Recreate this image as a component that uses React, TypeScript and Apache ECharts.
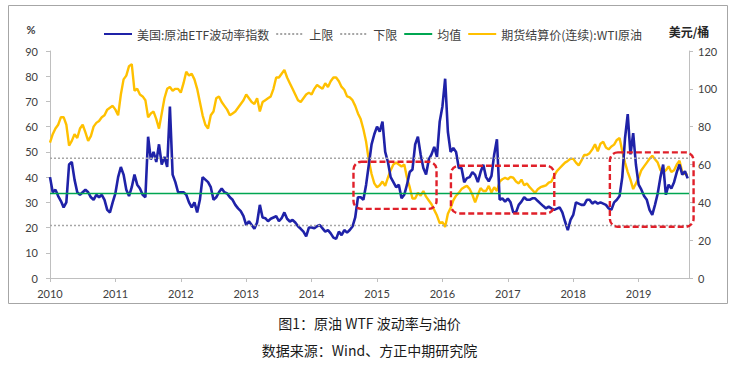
import React, { useEffect, useRef } from "react";
import * as echarts from "echarts";

const startYear = 2010;
const pointsPerYear = 24;
const endYear = 2019.77;
const yearTicks = [2010, 2011, 2012, 2013, 2014, 2015, 2016, 2017, 2018, 2019];

// 美国:原油ETF波动率指数 (left axis, %), semi-monthly readings
const vol2010 = [40, 34, 35, 32.5, 30.5, 28, 30, 45, 46, 39, 34, 33, 34, 35, 34, 32, 31, 33, 32, 33, 31, 27, 26, 30];
const vol2011 = [33.6, 40, 44, 41, 35, 32.5, 36, 41, 37, 35.5, 33, 32, 56, 47, 50, 46, 53, 45, 48, 44, 68, 41, 38, 34];
const vol2012 = [34, 34, 33, 30, 28, 30, 26, 31, 40, 39, 38, 36, 31, 32, 34, 35.5, 34, 33.5, 32, 31, 29, 27.6, 26.5, 24.5];
const vol2013 = [21, 22.5, 21, 19.5, 22, 29, 24, 23.7, 22.5, 23.5, 24, 24.5, 22.5, 23.7, 26, 23.5, 22.4, 23, 22, 20.5, 19.5, 18.4, 16.5, 20];
const vol2014 = [20, 19.7, 20.5, 21, 19.7, 18.4, 19, 17.7, 16, 15.5, 18.4, 17, 19, 18, 19, 20.4, 24, 32, 32, 31, 37, 45, 53, 57];
const vol2015 = [60, 58, 62, 50, 46, 40, 38, 36, 37, 31.6, 33, 37, 42, 43, 53, 56, 49, 43.6, 41, 47, 49, 52, 48, 62];
const vol2016 = [68, 79, 58, 50, 51.5, 50, 43.6, 43.6, 38, 39.6, 40, 42, 40.9, 38, 42, 44.9, 40, 38.3, 40.5, 49, 55, 31, 31.6, 30.3];
const vol2017 = [31.5, 30, 26, 26, 29, 30.3, 32, 31, 31, 31.6, 31.6, 30.5, 29.5, 28.5, 27.6, 28.3, 27.6, 27, 27.5, 28, 26, 22.4, 19, 23];
const vol2018 = [25, 30, 29.5, 29, 29, 31, 31, 29.5, 30.3, 29.5, 30, 29.5, 29, 27.6, 27, 30, 31, 32.5, 40, 55.4, 65, 49, 57.4, 45];
const vol2019 = [37, 35, 32.5, 31, 27, 25, 29, 33.5, 40, 45, 33, 37, 35.5, 38, 42, 45, 41, 42.3, 39.5];

// 期货结算价(连续):WTI原油 (right axis, 美元/桶), semi-monthly readings
const wti2010 = [71.6, 76, 79, 81, 85, 85, 81, 70, 72.5, 76, 74, 79, 81, 77, 72.5, 75, 80, 82, 83, 85, 86, 89, 90, 91];
const wti2011 = [89, 86, 97, 105, 107, 112, 113, 99, 100, 97, 96, 94, 85, 87, 88, 84, 79, 87, 95, 100, 101, 99, 100, 100];
const wti2012 = [98, 103, 109, 107, 108, 105, 100, 93, 86, 81, 79, 86, 88, 95, 96, 93, 91, 89, 86, 87, 88, 90, 92, 94];
const wti2013 = [97, 95, 93, 92, 95, 88, 93, 94, 95, 96, 100, 106, 106, 108, 110, 106, 103, 100, 97, 94, 93, 95, 97, 98];
const wti2014 = [97, 100, 102, 101, 100, 103, 101, 104, 106, 106, 104, 101, 99.5, 96, 95.5, 94, 91, 87, 84, 78.6, 72, 62, 55, 50];
const wti2015 = [48, 49, 51, 48.7, 53, 57, 60, 61, 60, 59, 60, 53, 48, 42, 42, 45, 43.5, 46, 43, 41, 39, 36, 33, 29];
const wti2016 = [29.5, 27, 34, 37, 41, 43.5, 45, 47, 48, 48.7, 47, 44, 40, 44, 47.5, 46, 46, 48.7, 45.2, 48, 46, 51, 52.2, 53];
const wti2017 = [52.2, 53.5, 53, 51, 50, 52, 49, 50, 48, 46.5, 45, 46.9, 48, 48.5, 49, 50.4, 51, 54, 56.5, 58, 59.5, 61, 61.9, 63];
const wti2018 = [63, 61, 59.5, 62, 65, 65, 66, 68, 70.7, 67, 71, 72, 69, 68, 69.5, 70.5, 73, 74, 67, 61, 56, 52, 47, 50];
const wti2019 = [53, 57, 59, 61, 63, 64.6, 62.8, 61, 57, 55.7, 57, 59, 56, 57, 60, 62, 56, 55, 54.5];

const upperBound = 47.5;
const lowerBound = 20.8;
const meanValue = 33.5;

// Annotation boxes: [fromYear, toYear, lowValue, highValue] on left axis
const boxes = [
  [2014.64, 2015.91, 27.4, 46.1],
  [2016.13, 2017.71, 25.6, 44.5],
  [2018.56, 2019.84, 20.3, 49.8],
];

const volValues = [vol2010, vol2011, vol2012, vol2013, vol2014, vol2015, vol2016, vol2017, vol2018, vol2019].flat();
const wtiValues = [wti2010, wti2011, wti2012, wti2013, wti2014, wti2015, wti2016, wti2017, wti2018, wti2019].flat();

const names = {
  vol: "美国:原油ETF波动率指数",
  up: "上限",
  low: "下限",
  mean: "均值",
  wti: "期货结算价(连续):WTI原油",
};

const toPairs = (vals: number[]) => vals.map((v, i) => [startYear + i / pointsPerYear, v]);

const cjk = "'Noto Sans CJK SC', 'Noto Sans', sans-serif";
const num = "Lato, 'Open Sans', sans-serif";

export default function App() {
  const ref = useRef<HTMLDivElement>(null);
  useEffect(() => {
    document.body.style.margin = "0";
    if (!ref.current) return;
    const chart = echarts.init(ref.current, undefined, { renderer: "svg" });
    const axisColor = "#bfbfbf";
    const option: any = {
      animation: false,
      backgroundColor: "#fff",
      grid: { left: 50, right: 50, top: 51, bottom: 90 },
      legend: {
        top: 23,
        left: 98,
        itemWidth: 28,
        itemHeight: 10,
        itemGap: 6,
        itemStyle: { opacity: 0 },
        textStyle: { fontSize: 12, color: "#404040", fontFamily: cjk },
        data: [names.vol, names.up, names.low, names.mean, names.wti],
      },
      xAxis: {
        type: "value",
        min: startYear,
        max: endYear,
        interval: 1,
        splitLine: { show: false },
        axisLine: { lineStyle: { color: axisColor } },
        axisTick: { lineStyle: { color: axisColor }, length: 4 },
        axisLabel: {
          color: "#404040",
          fontSize: 11,
          fontFamily: num,
          margin: 10,
          showMaxLabel: false,
          formatter: (v: number) => (yearTicks.includes(v) ? String(v) : ""),
        },
      },
      yAxis: [
        {
          type: "value",
          min: 0,
          max: 90,
          interval: 10,
          name: "%",
          nameGap: 16,
          nameTextStyle: { fontSize: 11, color: "#404040", fontFamily: num, fontWeight: "bold", align: "center", padding: [0, 38, 0, 0] },
          splitLine: { show: false },
          axisLine: { show: true, lineStyle: { color: axisColor } },
          axisTick: { show: true, lineStyle: { color: axisColor }, length: 4 },
          axisLabel: { color: "#404040", fontSize: 11, fontFamily: num, margin: 12 },
        },
        {
          type: "value",
          min: 0,
          max: 120,
          interval: 20,
          name: "美元/桶",
          nameGap: 14,
          nameTextStyle: { fontSize: 12, color: "#262626", fontFamily: cjk, fontWeight: "bold", align: "center" },
          splitLine: { show: false },
          axisLine: { show: true, lineStyle: { color: axisColor } },
          axisTick: { show: true, lineStyle: { color: axisColor }, length: 4 },
          axisLabel: { color: "#404040", fontSize: 11, fontFamily: num, margin: 9 },
        },
      ],
      series: [
        {
          name: names.wti,
          type: "line",
          yAxisIndex: 1,
          data: toPairs(wtiValues),
          symbol: "none",
          lineStyle: { color: "#ffc000", width: 2.4 },
          itemStyle: { color: "#ffc000" },
          z: 2,
        },
        {
          name: names.vol,
          type: "line",
          yAxisIndex: 0,
          data: toPairs(volValues),
          symbol: "none",
          lineStyle: { color: "#1f22a8", width: 2.6 },
          itemStyle: { color: "#1f22a8" },
          z: 3,
        },
        {
          name: names.up,
          type: "line",
          data: [[startYear, upperBound], [endYear, upperBound]],
          symbol: "none",
          lineStyle: { color: "#a6a6a6", width: 1.5, type: [2, 2] },
          itemStyle: { color: "#a6a6a6" },
          z: 4,
        },
        {
          name: names.low,
          type: "line",
          data: [[startYear, lowerBound], [endYear, lowerBound]],
          symbol: "none",
          lineStyle: { color: "#a6a6a6", width: 1.5, type: [2, 2] },
          itemStyle: { color: "#a6a6a6" },
          z: 4,
        },
        {
          name: names.mean,
          type: "line",
          data: [[startYear, meanValue], [endYear, meanValue]],
          symbol: "none",
          lineStyle: { color: "#00a651", width: 1.6 },
          itemStyle: { color: "#00a651" },
          z: 5,
        },
      ],
    };
    chart.setOption(option);

    const boxGraphics = boxes.map((b) => {
      const p0 = chart.convertToPixel({ xAxisIndex: 0, yAxisIndex: 0 }, [b[0], b[3]]) as number[];
      const p1 = chart.convertToPixel({ xAxisIndex: 0, yAxisIndex: 0 }, [b[1], b[2]]) as number[];
      return {
        type: "rect",
        z: 100,
        shape: { x: p0[0], y: p0[1], width: p1[0] - p0[0], height: p1[1] - p0[1], r: 8 },
        style: { fill: "none", stroke: "#e0202a", lineWidth: 2.4, lineDash: [6, 3] },
      };
    });

    chart.setOption({
      graphic: [
        {
          type: "rect",
          z: 0,
          shape: { x: 8.5, y: 5.5, width: 719, height: 298 },
          style: { fill: "none", stroke: "#a6a6a6", lineWidth: 1 },
        },
        ...boxGraphics,
        {
          type: "text",
          left: "center",
          top: 316,
          style: { text: "图1：原油 WTF 波动率与油价", fontSize: 14, fill: "#1a1a1a", fontFamily: cjk },
        },
        {
          type: "text",
          left: "center",
          top: 343,
          style: { text: "数据来源：Wind、方正中期研究院", fontSize: 14, fill: "#1a1a1a", fontFamily: cjk },
        },
      ],
    });
    return () => chart.dispose();
  }, []);
  return <div ref={ref} style={{ width: 739, height: 368, position: "absolute", left: 0, top: 0 }} />;
}
